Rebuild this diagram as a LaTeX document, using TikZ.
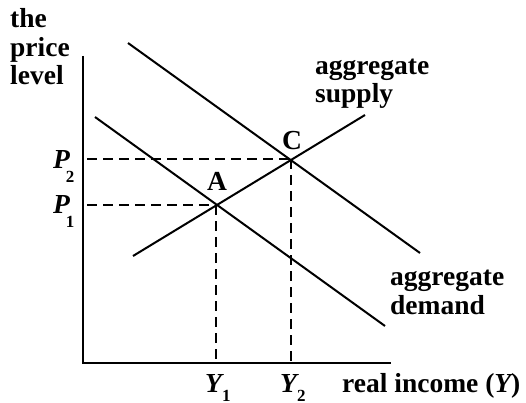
\documentclass[tikz,border=0pt]{standalone}
\usepackage{fontspec}
\setmainfont{Liberation Serif}
\begin{document}
\begin{tikzpicture}[x=1pt,y=-1pt,
  lbl/.style={inner sep=0pt,font=\fontsize{27.5}{28.5}\selectfont\bfseries},
  axisline/.style={line width=2pt},
  curve/.style={line width=2pt},
  guide/.style={line width=2.8pt,dash pattern=on 10pt off 6pt},
]
\useasboundingbox (0,0) rectangle (526,403);
\newcommand{\subdn}[3]{\kern#1\raisebox{-#2}{\fontsize{17}{17}\selectfont #3}}
% key points
\coordinate (O) at (83,363);
\coordinate (ytop) at (83,56);
\coordinate (xend) at (391,363);
\coordinate (A) at (216,205);
\coordinate (C) at (291,159);
\coordinate (d1s) at (95,117);
\coordinate (d1e) at (385,326);
\coordinate (d2s) at (128,43);
\coordinate (d2e) at (420,253);
\coordinate (ss) at (133,256);
\coordinate (se) at (365,115);
\coordinate (p2) at (87,159);
\coordinate (p1) at (87,205);
\coordinate (y1) at (216,363);
\coordinate (y2) at (291,363);
% axes
\draw[axisline] (ytop) -- (O) -- (xend);
% curves
\draw[curve] (d1s) -- (d1e);
\draw[curve] (d2s) -- (d2e);
\draw[curve] (ss) -- (se);
% guides
\draw[guide] (p2) -- (C);
\draw[guide] (C) -- (y2);
\draw[guide] (p1) -- (A);
\draw[guide] (A) -- (y1);
% labels
\node[lbl,anchor=base west,align=left] (ylab) at (10,85) {the\\price\\level};
\node[lbl,anchor=base west,align=left] (aslab) at (315,103) {aggregate\\supply};
\node[lbl,anchor=base west,align=left] (adlab) at (390,314) {aggregate\\demand};
\node[lbl,anchor=base west] (xlab) at (342,392) {real income ({\itshape Y})};
\node[lbl,anchor=base west] (P2) at (53,168) {{\itshape P}\subdn{-4pt}{14pt}{2}};
\node[lbl,anchor=base west] (P1) at (53,213) {{\itshape P}\subdn{-4pt}{14pt}{1}};
\node[lbl,anchor=base west] (Y1) at (205,392) {{\itshape Y}\subdn{0pt}{9pt}{1}};
\node[lbl,anchor=base west] (Y2) at (280,392) {{\itshape Y}\subdn{0pt}{9pt}{2}};
\node[lbl,anchor=base] (Alab) at (217,190) {A};
\node[lbl,anchor=base] (Clab) at (292,150) {C};
\end{tikzpicture}
\end{document}
